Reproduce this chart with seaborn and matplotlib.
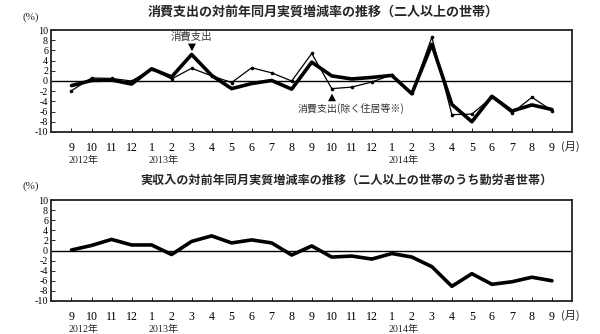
import matplotlib
matplotlib.use("Agg")
import matplotlib.pyplot as plt
import seaborn as sns
import pandas as pd

# Month labels for Sep 2012 - Sep 2014
months = ["9", "10", "11", "12", "1", "2", "3", "4", "5", "6", "7", "8",
          "9", "10", "11", "12", "1", "2", "3", "4", "5", "6", "7", "8", "9"]
year_positions = [0, 4, 16]
year_names = ["2012年", "2013年", "2014年"]

# Real year-on-year change (%) — two-or-more-person households
consumption = [-0.9, 0.1, 0.2, -0.6, 2.4, 0.8, 5.2, 1.1, -1.5, -0.5, 0.1, -1.6,
               3.7, 1.0, 0.4, 0.7, 1.1, -2.5, 7.2, -4.6, -8.0, -3.0, -5.9, -4.7, -5.6]
consumption_ex = [-1.9, 0.6, 0.5, 0.0, 2.3, 0.4, 2.5, 1.0, -0.3, 2.6, 1.6, 0.0,
                  5.4, -1.5, -1.2, -0.2, 1.2, -2.4, 8.6, -6.6, -6.5, -3.2, -6.3, -3.2, -5.8]

# Real income, worker households
income = [0.1, 1.0, 2.2, 1.1, 1.1, -0.8, 1.8, 2.9, 1.5, 2.1, 1.5, -0.9,
          0.9, -1.3, -1.1, -1.7, -0.6, -1.3, -3.2, -7.1, -4.6, -6.7, -6.2, -5.3, -6.0]

yticks = [10, 8, 6, 4, 2, 0, -2, -4, -6, -8, -10]

title_top = "消費支出の対前年同月実質増減率の推移（二人以上の世帯）"
title_bottom = "実収入の対前年同月実質増減率の推移（二人以上の世帯のうち勤労者世帯）"
label_main = "消費支出"
label_ex = "消費支出(除く住居等※)"

sns.set_theme(style="white")
plt.rcParams["font.family"] = ["Liberation Serif", "Noto Sans CJK JP", "DejaVu Sans"]

idx = list(range(len(months)))
df = pd.DataFrame({"idx": idx, "consumption": consumption,
                   "consumption_ex": consumption_ex, "income": income})

fig = plt.figure(figsize=(6.0, 3.34), dpi=100)
ax1 = fig.add_axes([0.0858, 0.605, 0.8675, 0.305])
ax2 = fig.add_axes([0.0858, 0.099, 0.8675, 0.302])

jp = ["Noto Sans CJK JP", "DejaVu Sans"]


def style_axis(ax):
    ax.set_xlim(-1, 25)
    ax.set_ylim(-10, 10)
    ax.set_yticks(yticks)
    ax.set_yticklabels([str(v) for v in yticks], fontsize=7.2)
    ax.set_xticks(idx)
    ax.set_xticklabels(months, fontsize=8.6)
    ax.tick_params(axis="y", direction="in", length=3, width=0.6, pad=2.5,
                   left=True, colors="black")
    ax.tick_params(axis="x", direction="in", length=3, width=0.6, pad=7.5,
                   bottom=True, colors="black")
    for s in ax.spines.values():
        s.set_color("#222222")
        s.set_linewidth(1.3)
    ax.axhline(0, color="black", lw=1.0, zorder=1)
    ax.set_xlabel("")
    ax.set_ylabel("")
    for pos, name in zip(year_positions, year_names):
        ax.annotate(name, xy=(pos - 0.15, 0), xycoords=("data", "axes fraction"),
                    xytext=(0, -20.5), textcoords="offset points",
                    ha="left", va="center", fontsize=7.2)
    ax.annotate("(月)", xy=(24.45, 0), xycoords=("data", "axes fraction"),
                xytext=(0, -10.3), textcoords="offset points",
                ha="left", va="center", fontsize=8.0, family=jp)


# Upper panel: consumption expenditure
sns.lineplot(data=df, x="idx", y="consumption_ex", ax=ax1, color="black",
             lw=0.9, marker="o", markersize=2.6, markeredgewidth=0, zorder=3)
sns.lineplot(data=df, x="idx", y="consumption", ax=ax1, color="black",
             lw=2.6, zorder=4)
style_axis(ax1)
ax1.text(6, 8.8, label_main, ha="center", va="center", fontsize=7.5,
         color="#333333", family=jp)
ax1.text(6, 6.7, "▼", ha="center", va="center", fontsize=7.5, color="black",
         family=["DejaVu Sans"])
ax1.text(13, -3.1, "▲", ha="center", va="center", fontsize=7.5, color="black",
         family=["DejaVu Sans"])
ax1.text(11.3, -5.5, label_ex, ha="left", va="center", fontsize=7.2,
         color="#333333", family=jp)

# Lower panel: real income
sns.lineplot(data=df, x="idx", y="income", ax=ax2, color="black", lw=2.6, zorder=4)
style_axis(ax2)

fig.text(323 / 600, 1 - 12 / 334, title_top, ha="center", va="center",
         fontsize=9.4, fontweight="bold", family=jp)
fig.text(347 / 600, 1 - 180 / 334, title_bottom, ha="center", va="center",
         fontsize=8.7, fontweight="bold", family=jp)
fig.text(31 / 600, 1 - 17 / 334, "(%)", ha="center", va="center", fontsize=8.0)
fig.text(31 / 600, 1 - 186 / 334, "(%)", ha="center", va="center", fontsize=8.0)

fig.savefig("out.png", dpi=100, facecolor="white")
